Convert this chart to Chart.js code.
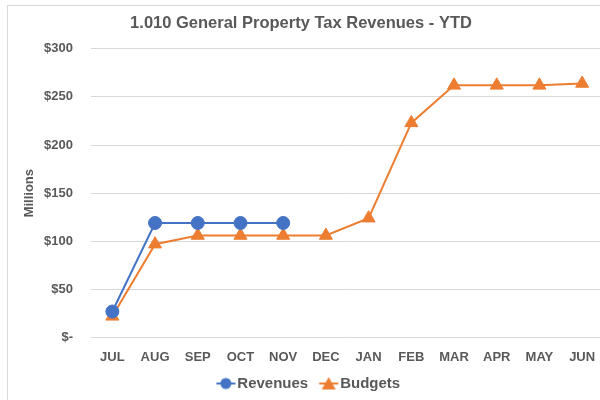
<!DOCTYPE html>
<html><head><meta charset="utf-8">
<script src="https://cdn.jsdelivr.net/npm/chart.js@4"></script>
<style>
html,body{margin:0;padding:0;width:600px;height:400px;overflow:hidden;background:#fff}
#frame{position:absolute;left:7px;top:5px;width:700px;height:500px;border-left:1px solid #d9d9d9;border-top:1px solid #d9d9d9;box-sizing:border-box}
#wrap{position:absolute;left:-10px;top:0;width:622px;height:401px}
</style></head><body>
<div id="frame"></div>
<div id="wrap"><canvas id="c" width="622" height="401"></canvas></div>
<script>
const categories = ['JUL','AUG','SEP','OCT','NOV','DEC','JAN','FEB','MAR','APR','MAY','JUN'];
const revenues = [27,119,119,119,119];
const budgets = [22,97,106,106,106,106,124,223,262,262,262,264];
const yMin = 0, yMax = 300, yStep = 50;
const chartTitle = '1.010 General Property Tax Revenues - YTD';
const yTitle = 'Millions';

const BLUE = '#4472C4', ORANGE = '#ED7D31', TXT = '#595959', GRID = '#d9d9d9';
const FONT = "'Liberation Sans', Arial, sans-serif";

function legendIcon(color, shape){
  const c = document.createElement('canvas');
  c.width = 26; c.height = 16;
  const g = c.getContext('2d');
  const ox = 6;
  g.strokeStyle = color; g.lineWidth = 2;
  g.beginPath(); g.moveTo(ox+0.5,8); g.lineTo(ox+19.5,8); g.stroke();
  g.fillStyle = color;
  g.beginPath();
  if (shape === 'circle') { g.arc(ox+10,8,5.5,0,Math.PI*2); }
  else { g.moveTo(ox+10,1.5); g.lineTo(ox+17,14); g.lineTo(ox+3,14); g.closePath(); }
  g.fill();
  return c;
}
const icons = [legendIcon(BLUE,'circle'), legendIcon(ORANGE,'triangle')];

const legendShift = { id: 'legendShift', afterLayout(chart){ const l = chart.legend; if (l) { l.left += 7; l.right += 7; } } };

new Chart(document.getElementById('c'), {
  type: 'line',
  data: {
    labels: categories,
    datasets: [
      { label: 'Revenues', data: revenues, borderColor: BLUE, backgroundColor: BLUE,
        borderWidth: 2, pointStyle: 'circle', pointRadius: 6.5, pointBorderWidth: 1, pointHoverRadius: 6.5, tension: 0 },
      { label: 'Budgets', data: budgets, borderColor: ORANGE, backgroundColor: ORANGE,
        borderWidth: 2, pointStyle: 'triangle', pointRadius: 7.5, pointBorderWidth: 1, pointHoverRadius: 7.5, tension: 0 }
    ]
  },
  plugins: [legendShift],
  options: {
    responsive: false,
    animation: false,
    layout: { padding: { left: 0, right: 0, top: 8, bottom: 0 } },
    plugins: {
      title: { display: true, text: chartTitle, color: TXT,
        font: { family: FONT, size: 16.5, weight: 'bold' }, padding: { top: 6, bottom: 15 } },
      legend: { position: 'bottom',
        labels: { color: TXT, font: { family: FONT, size: 15, weight: 'bold' }, usePointStyle: true,
          pointStyleWidth: 14, boxHeight: 15, padding: 10.5,
          generateLabels: (chart) => chart.data.datasets.map((d,i) => ({
            text: d.label, fillStyle: d.backgroundColor, strokeStyle: d.borderColor,
            pointStyle: icons[i], datasetIndex: i, hidden: false, fontColor: TXT, lineWidth: 0
          }))
        } },
      tooltip: { enabled: false }
    },
    scales: {
      x: { offset: true, grid: { display: false, drawTicks: false }, border: { display: false },
        afterFit: (s) => { s.height = 28; },
        ticks: { color: TXT, font: { family: FONT, size: 13, weight: 'bold' }, padding: 12, maxRotation: 0, autoSkip: false } },
      y: { min: yMin, max: yMax,
        afterFit: (s) => { s.width = 101; },
        grid: { color: GRID, lineWidth: 1, drawTicks: false }, border: { display: false },
        ticks: { stepSize: yStep, color: TXT, font: { family: FONT, size: 13, weight: 'bold' }, padding: 18,
          callback: v => v === 0 ? '$-' : '$' + v },
        title: { display: true, text: yTitle, color: TXT, font: { family: FONT, size: 13, weight: 'bold' }, padding: { top: 32, bottom: 0 } } }
    }
  }
});
</script>
</body></html>
